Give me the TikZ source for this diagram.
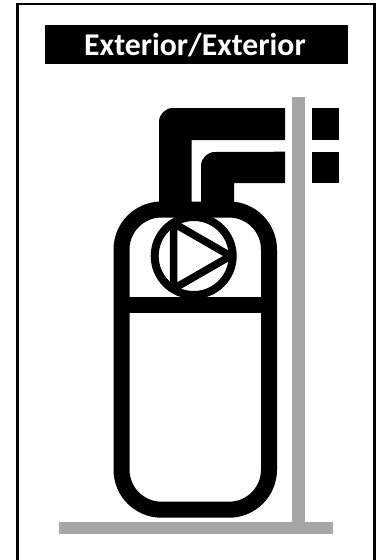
\documentclass[tikz,border=0pt]{standalone}
\usepackage{fontspec}
\setmainfont{Carlito}
\definecolor{shelf}{HTML}{A6A6A6}
\tikzset{x=1pt,y=-1pt,
  blk/.style={draw=black,line width=16pt},
  wall/.style={fill=shelf,draw=none},
  pipe/.style={fill=black,draw=none},
}
\begin{document}
\begin{tikzpicture}
\useasboundingbox (0,0) rectangle (380,560);
\draw[line width=2.3pt,color=black] (17.5,4.3) rectangle (374.5,570);
\fill[black] (45,25) rectangle (348,63.7);
\node[text=white,font=\fontsize{31.7}{34}\selectfont\bfseries,anchor=base,inner sep=0pt] (title) at (195,55) {Exterior/Exterior};
\fill[wall] (292,96.7) rectangle (305,522);
\fill[wall] (59,522) rectangle (333,534);
\fill[pipe] (159,212) -- (159,122) arc[start angle=180,end angle=90,x radius=14,y radius=-14] -- (285,108) -- (285,140) -- (191.7,140) -- (191.7,212) -- cycle;
\fill[pipe] (201,212) -- (201,166) arc[start angle=180,end angle=90,x radius=14,y radius=-14] -- (285,151.7) -- (285,183) -- (234,183) -- (234,212) -- cycle;
\fill[pipe] (312,108) rectangle (339.3,140);
\fill[pipe] (312,151.7) rectangle (339.3,183);
\draw[blk,rounded corners=40pt] (121.5,209.5) rectangle (269,509.7);
\draw[blk] (121.5,305) -- (269,305);
\node[circle,draw=black,fill=white,line width=8pt,minimum size=78pt,inner sep=0pt,outer sep=0pt] (pump) at (193.7,256) {};
\begin{scope}
\clip (193.7,256) circle[radius=42.5];
\draw[black,line width=7.5pt,line join=miter] (173.5,223.2) -- (230.5,256) -- (173.5,288.8) -- cycle;
\end{scope}
\end{tikzpicture}
\end{document}
